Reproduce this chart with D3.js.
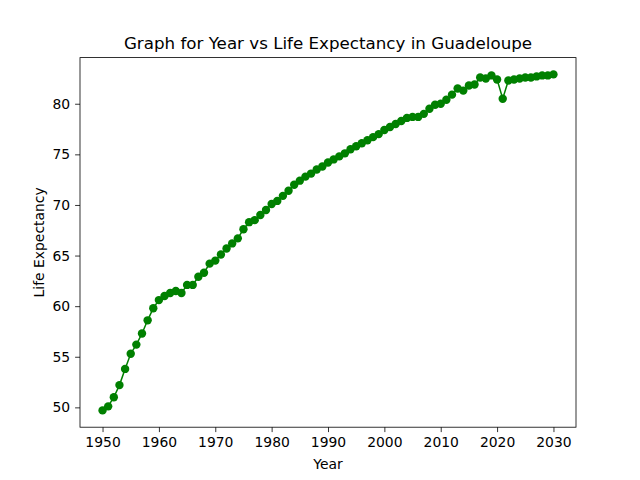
<!DOCTYPE html>
<html>
<head>
<meta charset="utf-8">
<script src="https://cdn.jsdelivr.net/npm/d3@7"></script>
<style>
  body { margin: 0; background: #fff; }
  svg text { font-family: "DejaVu Sans", sans-serif; fill: #000; }
</style>
</head>
<body>
<div id="container"></div>
<script>
// Years 1950..2030 and life expectancy
const years = d3.range(1950, 2031);
const lifeExp = [
  49.7, 50.1, 51.0, 52.2, 53.8, 55.3, 56.2, 57.3, 58.6, 59.8,
  60.6, 61.0, 61.3, 61.5, 61.3, 62.1, 62.1, 62.9, 63.3, 64.2,
  64.5, 65.1, 65.7, 66.2, 66.7, 67.6, 68.3, 68.5, 69.0, 69.5,
  70.1, 70.4, 70.9, 71.4, 72.0, 72.4, 72.8, 73.1, 73.5, 73.8,
  74.2, 74.5, 74.8, 75.1, 75.5, 75.8, 76.1, 76.4, 76.7, 77.0,
  77.4, 77.7, 78.0, 78.3, 78.6, 78.7, 78.7, 79.0, 79.5, 79.9,
  80.0, 80.4, 80.9, 81.5, 81.3, 81.8, 81.9, 82.6, 82.5, 82.8,
  82.4, 80.5, 82.3, 82.4, 82.5, 82.6, 82.6, 82.7, 82.8, 82.8, 82.9
];
const xTicks = [1950, 1960, 1970, 1980, 1990, 2000, 2010, 2020, 2030];
const yTicks = [50, 55, 60, 65, 70, 75, 80];

const width = 640, height = 480;
const margin = {left: 80, right: 64, top: 57.6, bottom: 52.8};

const data = years.map((y, i) => ({year: y, value: lifeExp[i]}));

// 5% padding on both axes, like the original
const xPad = (d3.max(years) - d3.min(years)) * 0.05;
const yMin = d3.min(lifeExp), yMax = d3.max(lifeExp);
const yPad = (yMax - yMin) * 0.05;

const x = d3.scaleLinear()
  .domain([d3.min(years) - xPad, d3.max(years) + xPad])
  .range([margin.left, width - margin.right]);
const y = d3.scaleLinear()
  .domain([yMin - yPad, yMax + yPad])
  .range([height - margin.bottom, margin.top]);

const svg = d3.create("svg")
  .attr("width", width)
  .attr("height", height);

// line + markers
svg.append("path")
  .datum(data)
  .attr("fill", "none")
  .attr("stroke", "green")
  .attr("stroke-width", 1.5)
  .attr("d", d3.line().x(d => x(d.year)).y(d => y(d.value)));

svg.append("g")
  .selectAll("circle")
  .data(data)
  .enter()
  .append("circle")
  .attr("cx", d => x(d.year))
  .attr("cy", d => y(d.value))
  .attr("r", 4.2)
  .attr("fill", "green");

// axes
const xAxis = svg.append("g")
  .attr("transform", `translate(0,${height - margin.bottom})`)
  .call(d3.axisBottom(x).tickValues(xTicks).tickFormat(d3.format("d")).tickSize(4.9).tickPadding(4.9));
const yAxis = svg.append("g")
  .attr("transform", `translate(${margin.left},0)`)
  .call(d3.axisLeft(y).tickValues(yTicks).tickSize(4.9).tickPadding(4.9));

[xAxis, yAxis].forEach(a => {
  a.select(".domain").remove();
  a.selectAll("line").attr("stroke", "#000").attr("stroke-width", 0.8);
  a.selectAll("text").attr("font-size", "13.9px").attr("font-family", "DejaVu Sans");
});

// frame
svg.append("rect")
  .attr("x", margin.left)
  .attr("y", margin.top)
  .attr("width", width - margin.left - margin.right)
  .attr("height", height - margin.top - margin.bottom)
  .attr("fill", "none")
  .attr("stroke", "#000")
  .attr("stroke-width", 0.8);

// labels
svg.append("text")
  .attr("x", (margin.left + width - margin.right) / 2)
  .attr("y", 469)
  .attr("text-anchor", "middle")
  .attr("font-size", "13.9px")
  .text("Year");

svg.append("text")
  .attr("transform", `translate(44,${(margin.top + height - margin.bottom) / 2}) rotate(-90)`)
  .attr("text-anchor", "middle")
  .attr("font-size", "13.9px")
  .text("Life Expectancy");

svg.append("text")
  .attr("x", (margin.left + width - margin.right) / 2)
  .attr("y", 49)
  .attr("text-anchor", "middle")
  .attr("font-size", "16.7px")
  .text("Graph for Year vs Life Expectancy in Guadeloupe");

document.getElementById("container").append(svg.node());
</script>
</body>
</html>
